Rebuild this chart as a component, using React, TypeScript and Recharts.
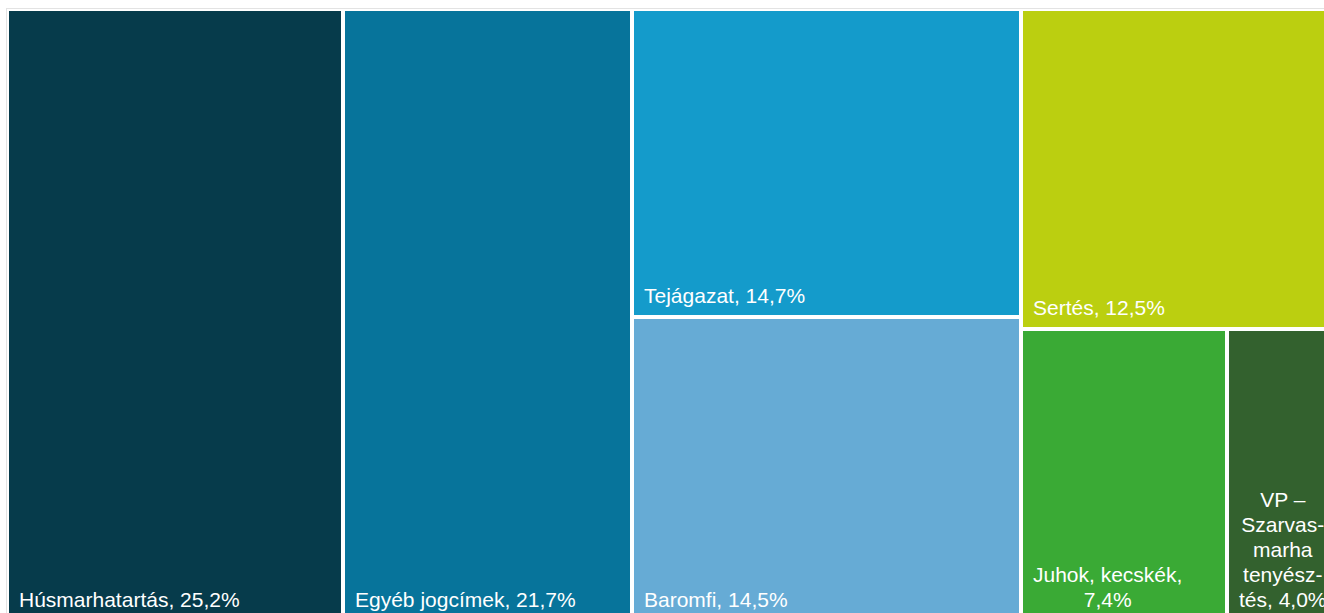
import { Treemap } from 'recharts';

// Állattenyésztési támogatások megoszlása (%)
const categories = [
  'Húsmarhatartás',
  'Egyéb jogcímek',
  'Tejágazat',
  'Baromfi',
  'Sertés',
  'Juhok, kecskék',
  'VP – Szarvas\u00ADmarha tenyész\u00ADtés',
];
const shares = [25.2, 21.7, 14.7, 14.5, 12.5, 7.4, 4.0];
const colors = ['#063B4B', '#07749B', '#149BCB', '#66ABD5', '#BBCF10', '#3AAA35', '#33612E'];

// grouping of the categories (indexes) into the tile hierarchy
const groups: any[] = [[0], [1], [2, 3], [4, [5, 6]]];

const build = (spec: any): any => {
  if (typeof spec === 'number') {
    return { name: categories[spec], value: shares[spec], color: colors[spec], leaf: true };
  }
  if (spec.length === 1 && typeof spec[0] === 'number') return build(spec[0]);
  return { name: '', children: spec.map(build) };
};

const data = groups.map(build);

const FONT = '"Liberation Sans", Arial, sans-serif';
const FONT_SIZE = 21;
const LINE_H = 25;

let ctx: CanvasRenderingContext2D | null = null;
const measure = (s: string) => {
  if (!ctx) {
    ctx = document.createElement('canvas').getContext('2d');
  }
  if (!ctx) return s.length * FONT_SIZE * 0.55;
  ctx.font = `${FONT_SIZE}px ${FONT}`;
  return ctx.measureText(s).width;
};

const display = (s: string) => {
  let t = s.replace(/ +$/, '');
  if (t.endsWith('\u00AD')) t = t.slice(0, -1) + '-';
  return t.replace(/\u00AD/g, '');
};

const wrapLabel = (text: string, maxW: number) => {
  const segs = text.match(/[^ \u00AD]+[ \u00AD]?/g) || [text];
  const lines: string[] = [];
  let cur = '';
  segs.forEach((seg) => {
    const cand = cur + seg;
    if (cur === '' || measure(display(cand)) <= maxW) {
      cur = cand;
    } else {
      lines.push(display(cur));
      cur = seg;
    }
  });
  if (cur) lines.push(display(cur));
  return lines;
};

const renderCell = (props: any) => {
  const { x, y, width, height, depth, name, value, color } = props;
  const isLeaf = props.leaf === true || (depth > 0 && !(props.children && props.children.length));
  if (!isLeaf || !width || !height) return <g />;

  const rx = x + 2;
  const ry = y + 2;
  const rw = Math.max(0, width - 4);
  const rh = Math.max(0, height - 4);
  const label = `${name}, ${Number(value).toFixed(1).replace('.', ',')}%`;
  const lines = wrapLabel(label, rw - 16);
  const multi = lines.length > 1;
  const blockW = Math.max(...lines.map(measure));
  const bottom = ry + rh - 12;

  return (
    <g>
      <rect x={rx} y={ry} width={rw} height={rh} fill={color} stroke="none" />
      {lines.map((ln, i) => (
        <text
          key={i}
          x={multi ? rx + 10 + blockW / 2 : rx + 10}
          y={bottom - (lines.length - 1 - i) * LINE_H}
          textAnchor={multi ? 'middle' : 'start'}
          fill="#ffffff"
          fontSize={FONT_SIZE}
          fontFamily={FONT}
        >
          {ln}
        </text>
      ))}
    </g>
  );
};

export default function App() {
  return (
    <div
      style={{
        position: 'fixed',
        left: 0,
        top: 0,
        width: 1324,
        height: 613,
        overflow: 'hidden',
        background: '#ffffff',
      }}
    >
      <div
        style={{
          position: 'absolute',
          left: 6,
          top: 8,
          borderLeft: '1px solid #e3e3e3',
          borderTop: '1px solid #e3e3e3',
        }}
      >
        <Treemap
          width={1332}
          height={612}
          data={data}
          dataKey="value"
          nameKey="name"
          aspectRatio={0.02}
          isAnimationActive={false}
          content={renderCell as any}
        />
      </div>
    </div>
  );
}
